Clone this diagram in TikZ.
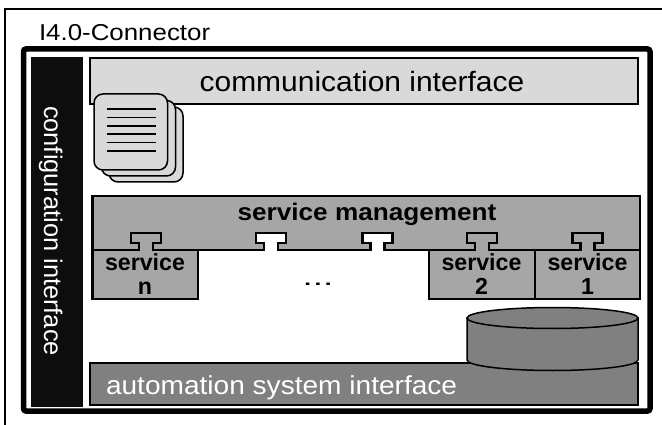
\documentclass[tikz,border=0pt]{standalone}
\usepackage{graphicx}
\usepackage{fontspec}
\setmainfont{Liberation Sans}
\newcommand\wide[2][1.25]{\scalebox{#1}[1]{#2}}
\newcommand\fs[1]{\fontsize{#1}{#1}\selectfont}
% socket outline, traversed from right to left along the bottom edge y=250
\def\sock#1{-- ({#1+7},250) -- ({#1+7},243) -- ({#1+15},243) -- ({#1+15},233) -- ({#1-15},233) -- ({#1-15},243) -- ({#1-7},243) -- ({#1-7},250)}
\tikzset{
  outerframe/.style={draw=black,line width=2.5},
  innerframe/.style={draw=black,line width=5.5,rounded corners=2.5},
  barbox/.style={fill=black!95,draw=black!95},
  commbox/.style={fill=black!15,draw=black,line width=2},
  autobox/.style={fill=black!50,draw=black,line width=2},
  mgmtbox/.style={fill=black!35,draw=black,line width=2.5,line join=miter},
  sheet/.style={fill=black!15,draw=black,line width=1.5,rounded corners=9},
  sheetline/.style={draw=black,line width=1.5},
  cyl/.style={fill=black!50,draw=black,line width=1.5},
  lbl/.style={inner sep=0,outer sep=0,text=black},
}
\begin{document}
\begin{tikzpicture}[x=1pt,y=-1pt]
\useasboundingbox (0,0) rectangle (662,425);
\clip (0,0) rectangle (662,425);
\draw[outerframe] (5,9) rectangle (720,480);
\node[lbl,anchor=base west] (title) at (39,41) {\fs{23}\wide[1.125]{I4.0-Connector}};
\draw[innerframe] (23.5,49) rectangle (650,411);
% configuration interface
\draw[barbox] (31.5,57) rectangle (82,406);
\node[lbl,text=white,rotate=-90,anchor=base] (cfg) at (44,231) {\fs{25.4}configuration interface};
% communication interface
\draw[commbox] (90,58) rectangle (638,104);
\node[lbl,anchor=base] (comm) at (362,92) {\fs{28}\wide[1.07]{communication interface}};
% documents
\draw[sheet] (109,107) rectangle (183,182);
\draw[sheet] (101.5,100.5) rectangle (175.5,176);
\draw[sheet] (94,94) rectangle (167.5,170);
\foreach \y in {109,117.5,126,134,142.5,151}
  \draw[sheetline] (106.5,\y) -- (155.5,\y);
% services
\foreach \a/\b/\c in {92.5/198/146,429/535/482,535/640/587.7}
  \draw[mgmtbox] (\b,250) \sock{\c} -- (\a,250) -- (\a,299) -- (\b,299) -- cycle;
% service management
\draw[mgmtbox] (92.5,196) -- (640,196) -- (640,250) \sock{587.7} \sock{482} \sock{377.6} \sock{271} \sock{146} -- (92.5,250) -- cycle;
\node[lbl,anchor=base] (mgmt) at (367,221) {\fs{24}\bfseries\wide[1.09]{service management}};
\node[lbl,anchor=base] (s3a) at (145,270) {\fs{23.2}\bfseries{service}};
\node[lbl,anchor=base] (s3b) at (145,294.5) {\fs{23.2}\bfseries{n}};
\node[lbl,anchor=base] (s2a) at (481.5,270) {\fs{23.2}\bfseries{service}};
\node[lbl,anchor=base] (s2b) at (481.5,294.5) {\fs{23.2}\bfseries{2}};
\node[lbl,anchor=base] (s1a) at (587.5,270) {\fs{23.2}\bfseries{service}};
\node[lbl,anchor=base] (s1b) at (587.5,294.5) {\fs{23.2}\bfseries{1}};
\node[lbl,anchor=base] (dots) at (318,285) {\fs{23}\wide[1.6]{...}};
% automation system interface
\draw[autobox] (90,363) rectangle (637.5,405);
\node[lbl,text=white,anchor=base west] (auto) at (106,394) {\fs{26}\wide[1.08]{automation system interface}};
% storage
\draw[cyl] (467,318) -- (467,360) arc[start angle=180,end angle=0,x radius=85.5,y radius=10.5] -- (638,318) -- cycle;
\draw[cyl] (552.5,318) ellipse[x radius=85.5,y radius=10.5];
\end{tikzpicture}
\end{document}
